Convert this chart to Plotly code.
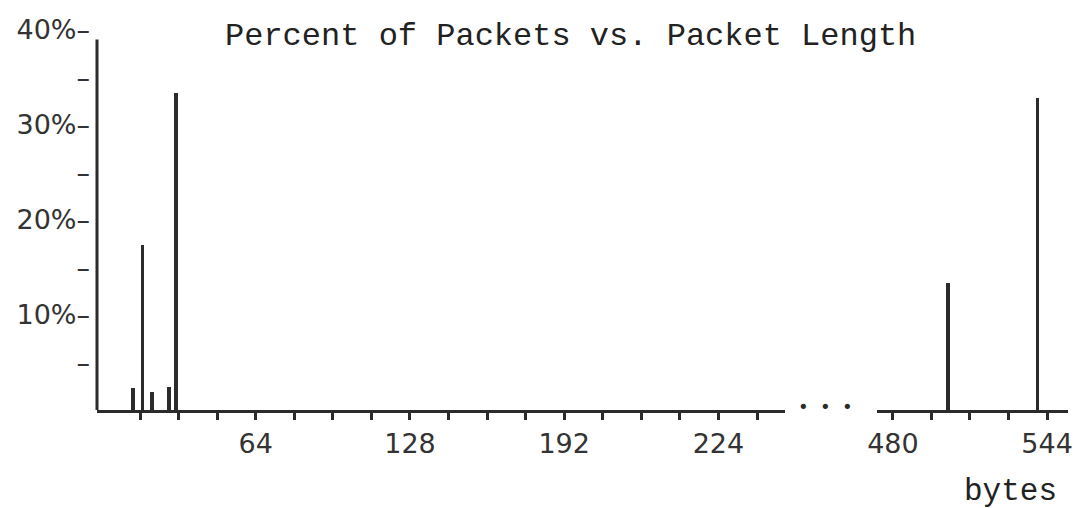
import plotly.graph_objects as go

# ---- data ----
left_lengths = [13, 17, 21, 28, 31]          # packet length, bytes
left_percent = [2.3, 17.4, 1.9, 2.4, 33.4]   # percent of packets
right_lengths = [503, 540]
right_percent = [13.4, 32.8]

left_tickvals = list(range(16, 273, 16))
left_labelvals = [64, 128, 192, 256]
left_labeltext = ["64", "128", "192", "224"]
right_tickvals = list(range(480, 545, 16))
right_labelvals = [480, 544]
right_labeltext = ["480", "544"]

y_tickvals = [5, 10, 15, 20, 25, 30, 35, 40]
y_ticktext = ["\u2013", "10%\u2013", "\u2013", "20%\u2013", "\u2013", "30%\u2013", "\u2013", "40%\u2013"]

title_text = "Percent of Packets vs. Packet Length"
unit_text = "bytes"

INK = "#2b2b2b"
HAND = "DejaVu Sans"
TYPE = "Liberation Mono"


def ticktext_for(tickvals, labelvals, labeltext):
    m = dict(zip(labelvals, labeltext))
    return [m.get(v, "") for v in tickvals]


fig = go.Figure()
fig.add_trace(go.Bar(x=left_lengths, y=left_percent, width=1.5,
                     marker=dict(color=INK, line=dict(width=0)),
                     xaxis="x", yaxis="y", showlegend=False))
fig.add_trace(go.Bar(x=right_lengths, y=right_percent, width=1.5,
                     marker=dict(color=INK, line=dict(width=0)),
                     xaxis="x2", yaxis="y", showlegend=False))

common_x = dict(showline=True, linecolor=INK, linewidth=3, showgrid=False,
                zeroline=False, ticks="outside", ticklen=7, tickwidth=3,
                tickcolor=INK, tickfont=dict(family=HAND, size=27, color="#333"),
                ticklabelstandoff=1, automargin=False, fixedrange=True)

# the page body adds an 8px offset, so the figure is 8px smaller each way
fig.update_layout(
    width=1074, height=500,
    margin=dict(l=89, r=14, t=22, b=98),
    paper_bgcolor="white", plot_bgcolor="white",
    bargap=0,
    xaxis=dict(domain=[0, 0.7085], range=[-1.87, 283.6],
               tickmode="array", tickvals=left_tickvals,
               ticktext=ticktext_for(left_tickvals, left_labelvals, left_labeltext),
               **common_x),
    xaxis2=dict(domain=[0.8033, 1], range=[473.4, 552.7], anchor="y",
                tickmode="array", tickvals=right_tickvals,
                ticktext=ticktext_for(right_tickvals, right_labelvals, right_labeltext),
                **common_x),
    yaxis=dict(range=[0, 40], showline=False, showgrid=False, zeroline=False,
               tickmode="array", tickvals=y_tickvals, ticktext=y_ticktext,
               ticks="", ticklabelstandoff=6, automargin=False,
               tickfont=dict(family=HAND, size=27, color="#333"),
               fixedrange=True),
    shapes=[dict(type="line", xref="paper", yref="y", x0=0, x1=0, y0=0, y1=39,
                 line=dict(color=INK, width=3))],
    annotations=[
        dict(text=title_text, xref="paper", yref="paper", x=0.488, y=0.982,
             xanchor="center", yanchor="middle", showarrow=False,
             font=dict(family=TYPE, size=32, color="#222")),
        dict(text=unit_text, xref="paper", yref="paper", x=0.991, y=-0.215,
             xanchor="right", yanchor="middle", showarrow=False,
             font=dict(family=TYPE, size=31, color="#222")),
        dict(text="\u2022  \u2022  \u2022", xref="paper", yref="y",
             x=(825 - 97) / 971, y=0.4, xanchor="center", yanchor="middle",
             showarrow=False, font=dict(family=HAND, size=18, color=INK)),
    ],
)

fig.write_html("out.html")
